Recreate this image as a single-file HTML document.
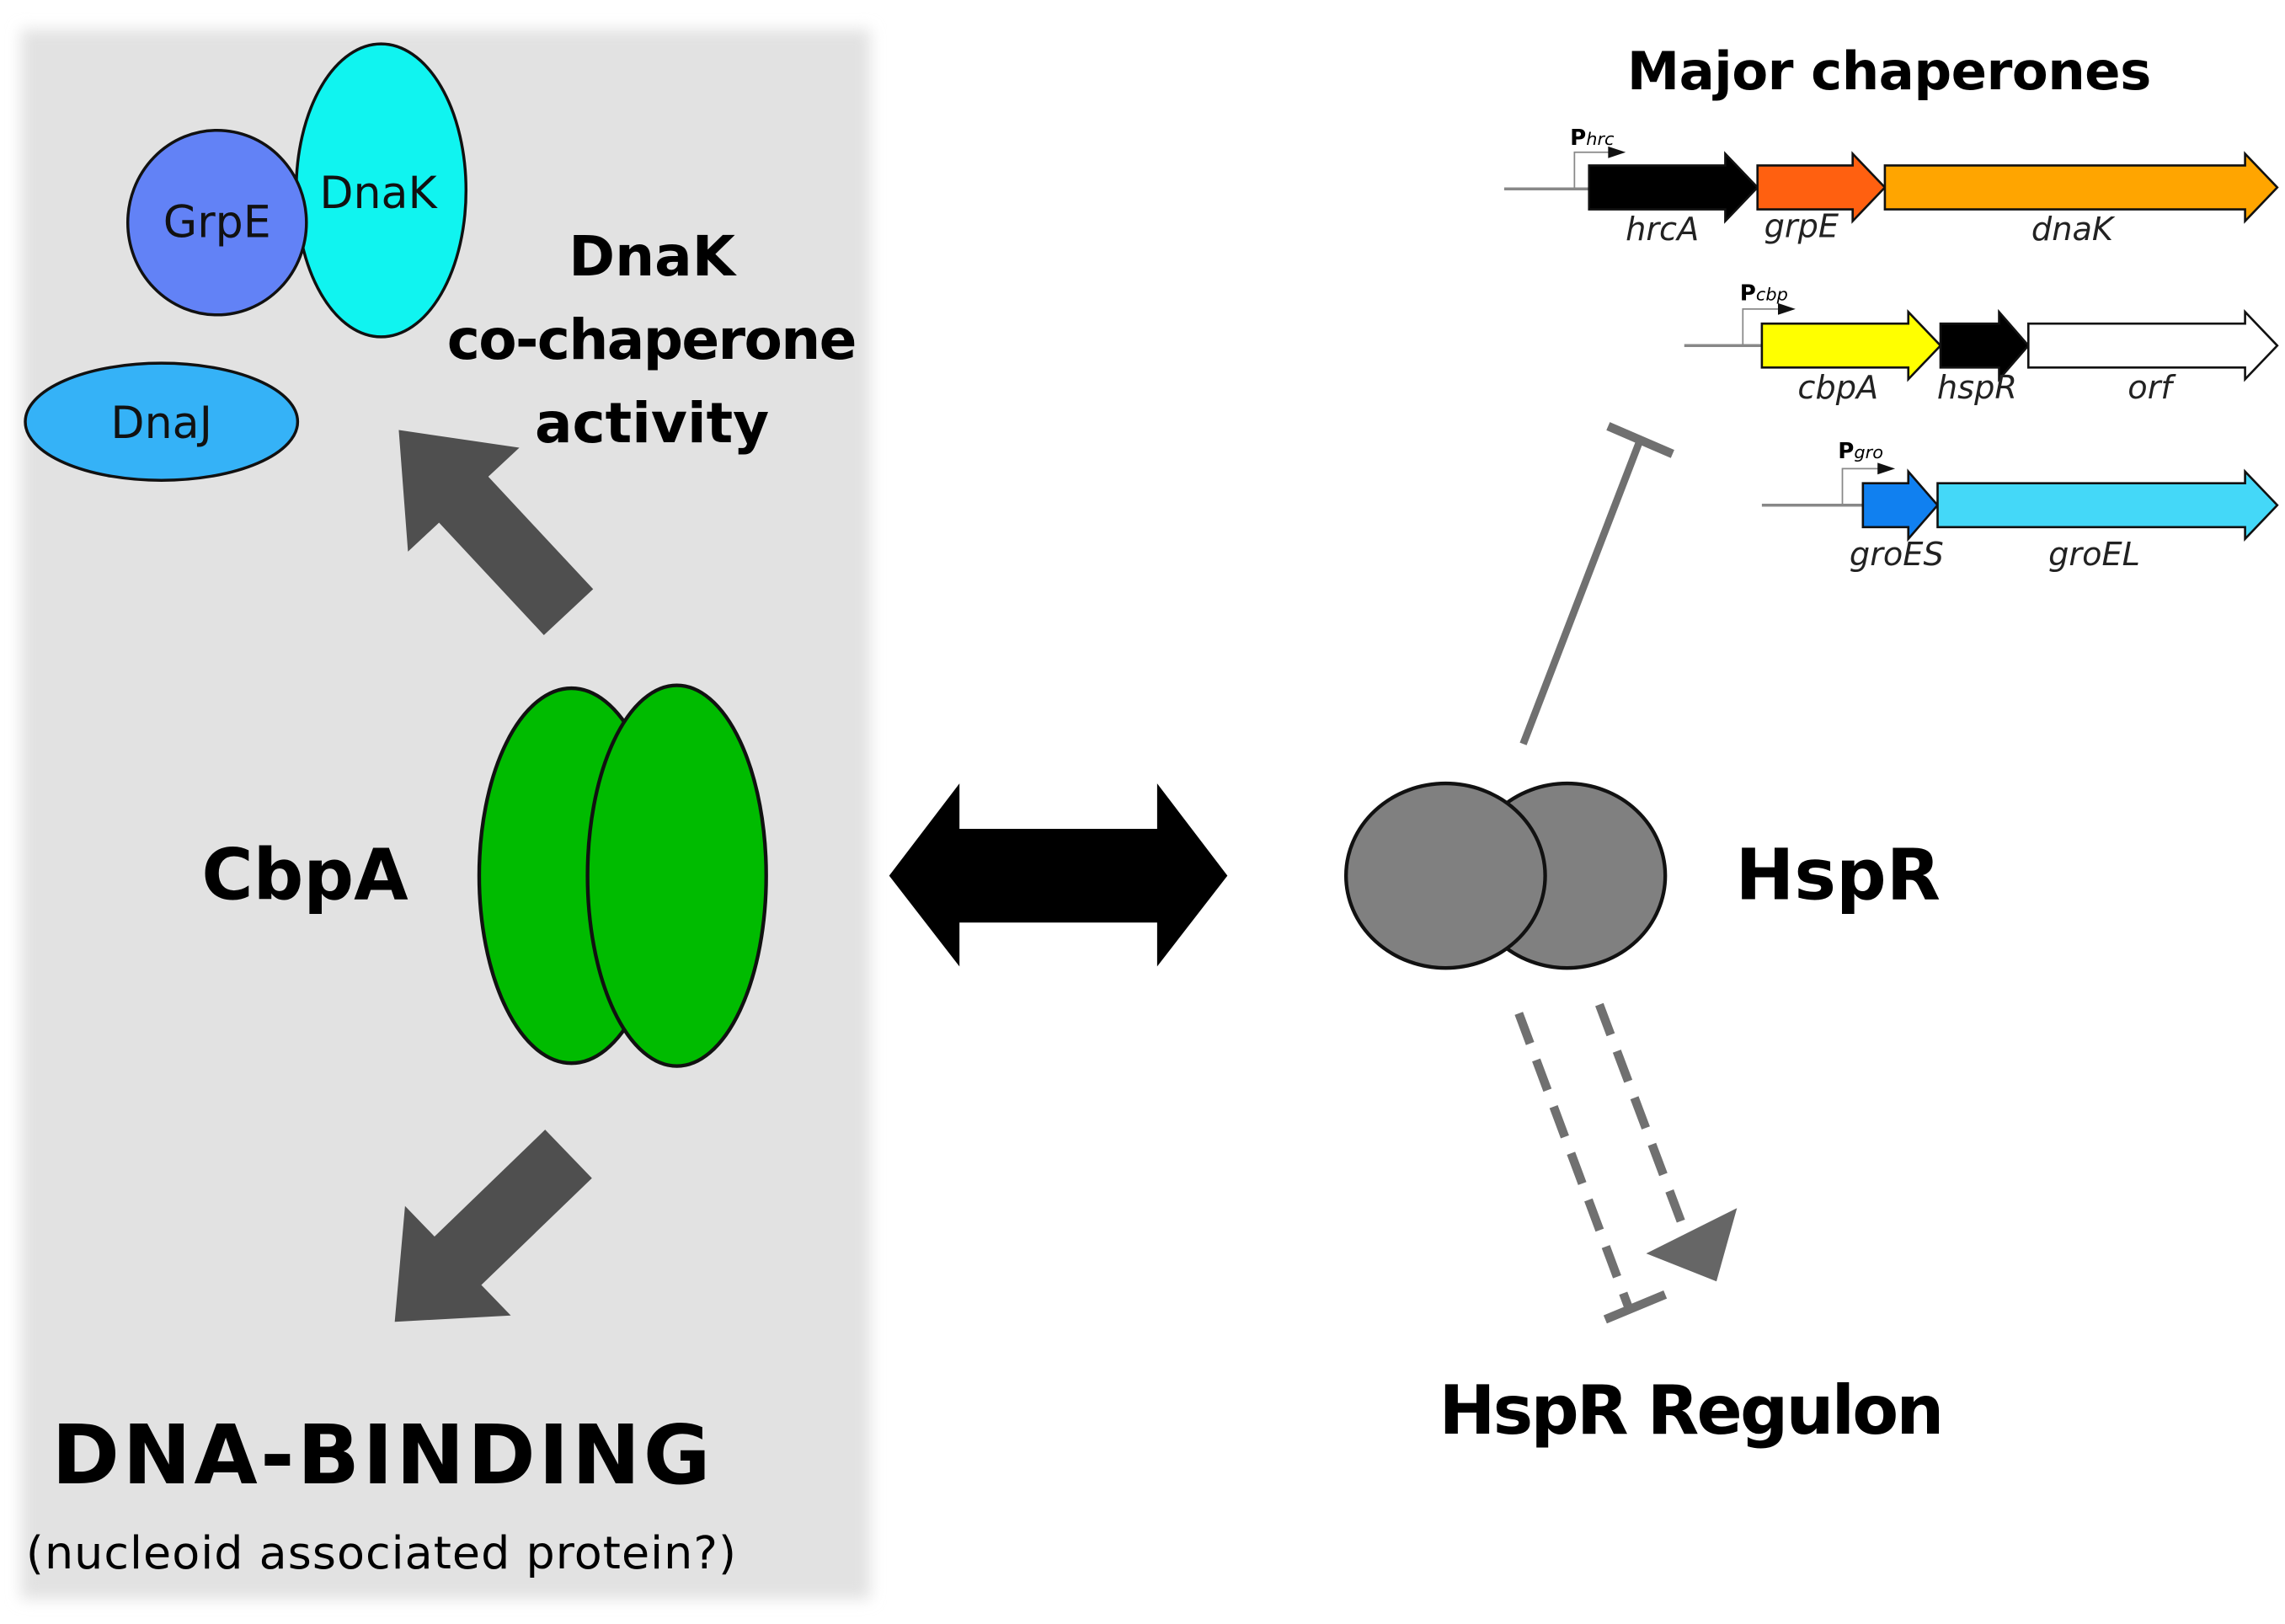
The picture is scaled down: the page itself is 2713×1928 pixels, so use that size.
<!DOCTYPE html>
<html><head><meta charset="utf-8"><style>
html,body{margin:0;padding:0;background:#fff;}
svg{display:block;}
text{font-family:"DejaVu Sans","Liberation Sans",sans-serif;}
</style></head><body>
<svg width="2713" height="1928" viewBox="0 0 1560 1109" xmlns="http://www.w3.org/2000/svg">
<defs>
<filter id="bl" x="-5%" y="-5%" width="110%" height="110%"><feGaussianBlur stdDeviation="5"/></filter>
</defs>
<rect x="0" y="0" width="1560" height="1109" fill="#fff"/>
<rect x="14" y="20" width="580" height="1072" fill="#e2e2e2" filter="url(#bl)"/>

<!-- chaperone ellipses -->
<ellipse cx="260" cy="130" rx="58" ry="100" fill="#10f4f0" stroke="#111" stroke-width="2"/>
<ellipse cx="148" cy="152" rx="61" ry="63" fill="#6282f6" stroke="#111" stroke-width="2"/>
<ellipse cx="110" cy="288" rx="93" ry="40" fill="#35b2f7" stroke="#111" stroke-width="2"/>
<text x="148" y="162" font-size="30" text-anchor="middle" fill="#111">GrpE</text>
<text x="258" y="142" font-size="30" text-anchor="middle" fill="#111">DnaK</text>
<text x="110" y="299" font-size="30" text-anchor="middle" fill="#111">DnaJ</text>

<text x="445" y="188" font-size="38" font-weight="bold" text-anchor="middle">DnaK</text>
<text x="445" y="245" font-size="38" font-weight="bold" text-anchor="middle" textLength="280">co-chaperone</text>
<text x="445" y="302" font-size="38" font-weight="bold" text-anchor="middle">activity</text>

<!-- gray block arrows -->
<polygon transform="translate(388,418) rotate(-133)" points="0,-23 105,-23 105,-52 170,0 105,52 105,23 0,23" fill="#4f4f4f"/>
<polygon transform="translate(388,788) rotate(136)" points="0,-23 105,-23 105,-52 165,0 105,52 105,23 0,23" fill="#4f4f4f"/>

<!-- CbpA -->
<ellipse cx="390" cy="598" rx="63" ry="128" fill="#00bb00" stroke="#111" stroke-width="2.5"/>
<ellipse cx="462" cy="598" rx="61" ry="130" fill="#00bb00" stroke="#111" stroke-width="2.5"/>
<text x="208" y="614" font-size="48" font-weight="bold" text-anchor="middle">CbpA</text>

<text x="260" y="1013" font-size="56" font-weight="bold" text-anchor="middle" textLength="450">DNA-BINDING</text>
<text x="260" y="1071" font-size="31" text-anchor="middle" textLength="485">(nucleoid associated protein?)</text>

<!-- double arrow -->
<polygon points="607,598 655,535 655,566 790,566 790,535 838,598 790,660 790,630 655,630 655,660" fill="#000"/>

<!-- HspR -->
<ellipse cx="1070" cy="598" rx="67" ry="63" fill="#808080" stroke="#111" stroke-width="2.5"/>
<ellipse cx="987" cy="598" rx="68" ry="63" fill="#808080" stroke="#111" stroke-width="2.5"/>
<text x="1255" y="614" font-size="48" font-weight="bold" text-anchor="middle">HspR</text>

<!-- inhibition line -->
<line x1="1040" y1="508" x2="1120" y2="300" stroke="#707070" stroke-width="5"/>
<line x1="1098" y1="291" x2="1142" y2="310" stroke="#707070" stroke-width="6"/>

<!-- dashed lines -->
<line x1="1037" y1="692" x2="1112" y2="893" stroke="#707070" stroke-width="6" stroke-dasharray="22,12"/>
<line x1="1096" y1="901" x2="1137" y2="884" stroke="#707070" stroke-width="6"/>
<line x1="1092" y1="686" x2="1150" y2="840" stroke="#707070" stroke-width="6" stroke-dasharray="22,12"/>
<polygon points="1124,856 1186,825 1172,875" fill="#666"/>

<text x="1155" y="979" font-size="46" font-weight="bold" text-anchor="middle" textLength="345">HspR Regulon</text>

<!-- Major chaperones -->
<text x="1290" y="61" font-size="36" font-weight="bold" text-anchor="middle" textLength="358">Major chaperones</text>

<g stroke="#111" stroke-width="1.5">
<!-- row 1 -->
<line x1="1027" y1="129" x2="1085" y2="129" stroke="#888" stroke-width="2"/>
<polyline points="1075,129 1075,104 1104,104" fill="none" stroke="#888" stroke-width="1"/>
<polygon points="1085,113 1178,113 1178,105 1200,128 1178,151 1178,143 1085,143" fill="#000"/>
<polygon points="1200,113 1265,113 1265,105 1287,128 1265,151 1265,143 1200,143" fill="#ff6010"/>
<polygon points="1287,113 1533,113 1533,105 1555,128 1533,151 1533,143 1287,143" fill="#ffa500"/>
<!-- row 2 -->
<line x1="1150" y1="236" x2="1203" y2="236" stroke="#888" stroke-width="2"/>
<polyline points="1190,236 1190,211 1220,211" fill="none" stroke="#888" stroke-width="1"/>
<polygon points="1203,221 1303,221 1303,213 1325,236 1303,259 1303,251 1203,251" fill="#ffff00"/>
<polygon points="1325,221 1365,221 1365,213 1385,236 1365,259 1365,251 1325,251" fill="#000"/>
<polygon points="1385,221 1533,221 1533,213 1555,236 1533,259 1533,251 1385,251" fill="#fff"/>
<!-- row 3 -->
<line x1="1203" y1="345" x2="1272" y2="345" stroke="#888" stroke-width="2"/>
<polyline points="1258,345 1258,320 1288,320" fill="none" stroke="#888" stroke-width="1"/>
<polygon points="1272,330 1303,330 1303,322 1323,345 1303,368 1303,360 1272,360" fill="#1080f0"/>
<polygon points="1323,330 1533,330 1533,322 1555,345 1533,368 1533,360 1323,360" fill="#44d8f8"/>
</g>
<polygon points="1098,100 1110,104 1098,108" fill="#111"/>
<polygon points="1214,207 1226,211 1214,215" fill="#111"/>
<polygon points="1282,316 1294,320 1282,324" fill="#111"/>

<g font-size="12">
<text x="1072" y="99"><tspan font-weight="bold" font-size="15">P</tspan><tspan font-style="italic">hrc</tspan></text>
<text x="1188" y="205"><tspan font-weight="bold" font-size="15">P</tspan><tspan font-style="italic">cbp</tspan></text>
<text x="1255" y="313"><tspan font-weight="bold" font-size="15">P</tspan><tspan font-style="italic">gro</tspan></text>
</g>
<g font-size="22" font-style="italic" text-anchor="middle" fill="#222">
<text x="1135" y="164">hrcA</text>
<text x="1230" y="162">grpE</text>
<text x="1415" y="164">dnaK</text>
<text x="1255" y="272">cbpA</text>
<text x="1350" y="272">hspR</text>
<text x="1468" y="272">orf</text>
<text x="1295" y="386">groES</text>
<text x="1430" y="386">groEL</text>
</g>
</svg>
</body></html>
